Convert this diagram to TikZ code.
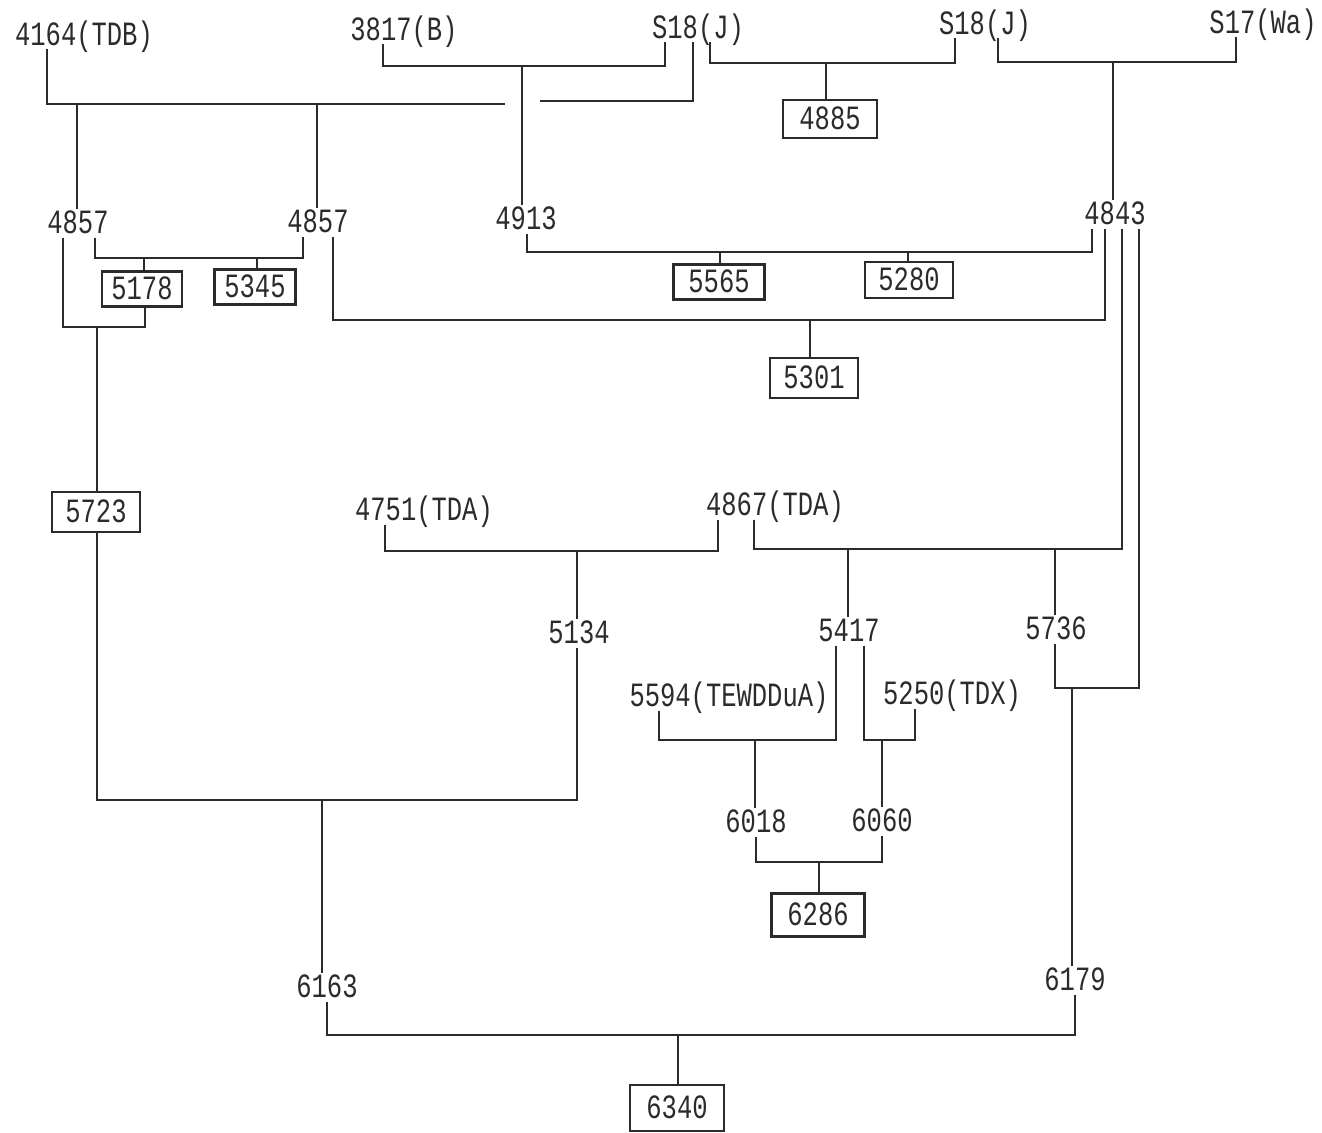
\documentclass[tikz,border=0pt]{standalone}
\usepackage{fontspec}
\newfontfamily\tw[FakeStretch=0.75]{Liberation Mono}
\definecolor{ink}{HTML}{2B2B2B}
\begin{document}
\begin{tikzpicture}[x=1pt,y=-1pt,
  lbl/.style={inner sep=0pt,outer sep=4pt,text height=21pt,text depth=0pt,text=ink,font=\tw\fontsize{34}{34}\selectfont},
  box/.style={lbl,draw=ink,line width=2.7pt,outer sep=1.35pt,minimum width=90pt,minimum height=38pt,text height=21pt,text depth=0pt},
  con/.style={draw=ink,line width=2.7pt}]
\useasboundingbox (0,0) rectangle (1322,1132);
\fill[white] (0,0) rectangle (1322,1132);
% labels
\node[lbl] (t4164) at (84,35) {4164(TDB)};
\node[lbl] (t3817) at (404,30) {3817(B)};
\node[lbl] (tS18a) at (698,28) {S18(J)};
\node[lbl] (tS18b) at (985,24) {S18(J)};
\node[lbl] (tS17) at (1263,23) {S17(Wa)};
\node[box,minimum width=94pt] (b4885) at (830,119) {4885};
\node[lbl] (t4857L) at (78,223) {4857};
\node[lbl] (t4857R) at (318,222) {4857};
\node[lbl] (t4913) at (526,219) {4913};
\node[lbl] (t4843) at (1115,214) {4843};
\node[box,minimum width=80pt,minimum height=35pt] (b5178) at (142,289) {5178};
\node[box,minimum width=81pt,minimum height=35pt] (b5345) at (255,287) {5345};
\node[box,minimum width=91pt,minimum height=35pt] (b5565) at (719,282) {5565};
\node[box,minimum width=88pt,minimum height=36pt] (b5280) at (909,280) {5280};
\node[box,minimum width=88pt,minimum height=40pt] (b5301) at (814,378) {5301};
\node[box,minimum width=88pt,minimum height=40pt] (b5723) at (96,512) {5723};
\node[lbl] (t4751) at (424,510) {4751(TDA)};
\node[lbl] (t4867) at (775,505) {4867(TDA)};
\node[lbl] (t5134) at (579,633) {5134};
\node[lbl] (t5417) at (849,631) {5417};
\node[lbl] (t5736) at (1056,629) {5736};
\node[lbl] (t5594) at (729,696) {5594(TEWDDuA)};
\node[lbl] (t5250) at (952,694) {5250(TDX)};
\node[lbl] (t6018) at (756,822) {6018};
\node[lbl] (t6060) at (882,821) {6060};
\node[box,minimum width=93pt,minimum height=43pt] (b6286) at (818,915) {6286};
\node[lbl] (t6163) at (327,987) {6163};
\node[lbl] (t6179) at (1075,980) {6179};
\node[box,minimum width=94pt,minimum height=46pt] (b6340) at (677,1108) {6340};
% connectors
\draw[con] (47,0 |- t4164.south) |- (505,104);
\draw[con] (540,101) -| (693,0 |- tS18a.south);
\draw[con] (77,104) -- (77,0 |- t4857L.north);
\draw[con] (317,104) -- (317,0 |- t4857R.north);
\draw[con] (383,0 |- t3817.south) |- (665,66) -- (665,0 |- tS18a.south);
\draw[con] (522,66) -- (522,0 |- t4913.north);
\draw[con] (710,0 |- tS18a.south) |- (955,63) -- (955,0 |- tS18b.south);
\draw[con] (826,63) -- (826,0 |- b4885.north);
\draw[con] (998,0 |- tS18b.south) |- (1236,62) -- (1236,0 |- tS17.south);
\draw[con] (1113,62) -- (1113,0 |- t4843.north);
\draw[con] (95,0 |- t4857L.south) |- (303,258) -- (303,0 |- t4857R.south);
\draw[con] (144,258) -- (144,0 |- b5178.north);
\draw[con] (257,258) -- (257,0 |- b5345.north);
\draw[con] (63,0 |- t4857L.south) |- (145,327) -- (145,0 |- b5178.south);
\draw[con] (97,327) -- (97,0 |- b5723.north);
\draw[con] (527,0 |- t4913.south) |- (1092,252) -- (1092,0 |- t4843.south);
\draw[con] (720,252) -- (720,0 |- b5565.north);
\draw[con] (908,252) -- (908,0 |- b5280.north);
\draw[con] (333,0 |- t4857R.south) |- (1105,320) -- (1105,0 |- t4843.south);
\draw[con] (810,320) -- (810,0 |- b5301.north);
\draw[con] (385,0 |- t4751.south) |- (718,551) -- (718,0 |- t4867.south);
\draw[con] (577,551) -- (577,0 |- t5134.north);
\draw[con] (754,0 |- t4867.south) |- (1122,549) -- (1122,0 |- t4843.south);
\draw[con] (848,549) -- (848,0 |- t5417.north);
\draw[con] (1055,549) -- (1055,0 |- t5736.north);
\draw[con] (1055,0 |- t5736.south) |- (1139,688) -- (1139,0 |- t4843.south);
\draw[con] (1072,688) -- (1072,0 |- t6179.north);
\draw[con] (659,0 |- t5594.south) |- (836,740) -- (836,0 |- t5417.south);
\draw[con] (755,740) -- (755,0 |- t6018.north);
\draw[con] (864,0 |- t5417.south) |- (915,740) -- (915,0 |- t5250.south);
\draw[con] (882,740) -- (882,0 |- t6060.north);
\draw[con] (756,0 |- t6018.south) |- (882,862) -- (882,0 |- t6060.south);
\draw[con] (819,862) -- (819,0 |- b6286.north);
\draw[con] (97,0 |- b5723.south) |- (577,800) -- (577,0 |- t5134.south);
\draw[con] (322,800) -- (322,0 |- t6163.north);
\draw[con] (327,0 |- t6163.south) |- (1075,1035) -- (1075,0 |- t6179.south);
\draw[con] (678,1035) -- (678,0 |- b6340.north);
\end{tikzpicture}
\end{document}
